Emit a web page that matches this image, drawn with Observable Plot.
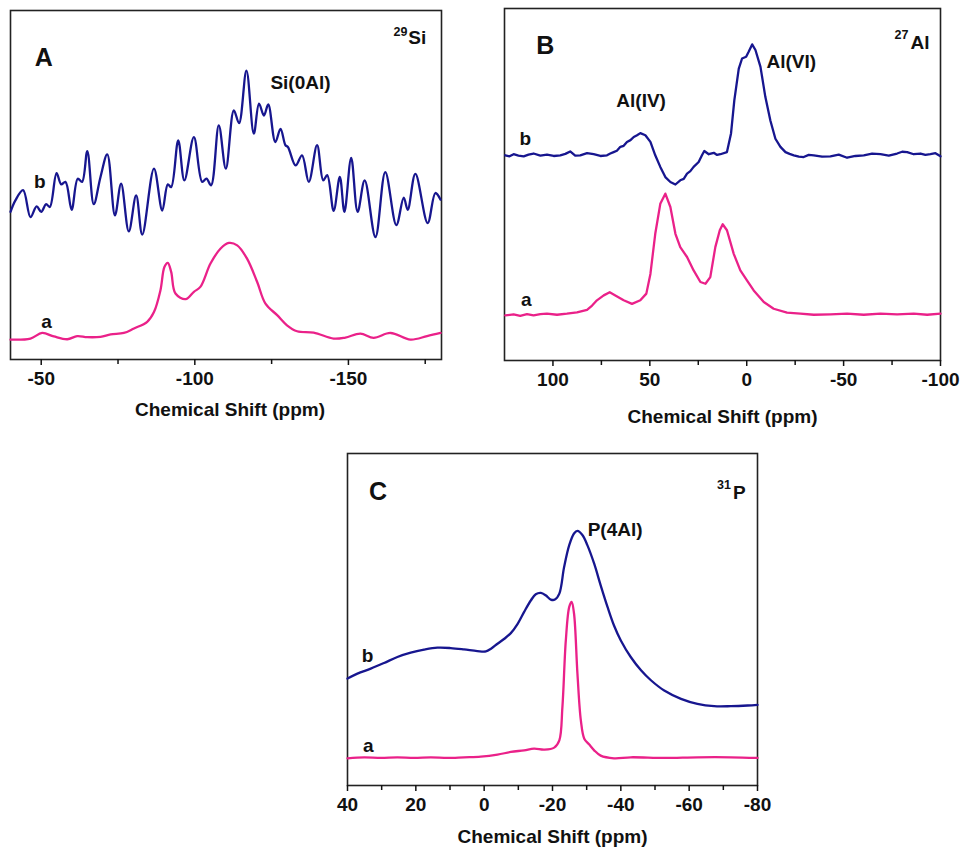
<!DOCTYPE html>
<html>
<head>
<meta charset="utf-8">
<script src="https://cdn.jsdelivr.net/npm/d3@7"></script>
<script src="https://cdn.jsdelivr.net/npm/@observablehq/plot@0.6"></script>
<style>
  html, body { margin: 0; padding: 0; background: #fff; }
  #wrap { position: relative; width: 967px; height: 850px; background: #fff; overflow: hidden; }
  .pane { position: absolute; }
</style>
</head>
<body>
<div id="wrap">
  <div class="pane" id="pA" style="left:0px;top:0px"></div>
  <div class="pane" id="pB" style="left:480px;top:0px"></div>
  <div class="pane" id="pC" style="left:330px;top:440px"></div>
</div>
<script>
// ---------- Panel A : 29Si ----------
const siTicks = [-50, -100, -150];
const siMinor = [-75, -125, -175];
const siShiftA = [-40, -46.5, -50.3, -54.1, -58.5, -61.7, -65, -69.3, -72.6, -76.9, -80.2, -84.5, -86.7, -88.8, -90.1, -91.2, -92.3, -93.7, -97, -99.7, -101.8, -105.1, -108.4, -111.1, -113.8, -117, -120.3, -123, -126.8, -130, -133.3, -138.7, -145.2, -149, -153.9, -158.2, -163.7, -170.2, -175.6, -180];
const siIntA   = [5.7, 6.0, 7.6, 6.6, 5.8, 6.7, 6.4, 6.5, 7.2, 7.6, 8.9, 10.8, 13.6, 19.8, 26.5, 27.7, 25.1, 18.9, 17.3, 19.4, 20.8, 27.5, 31.8, 33.4, 32.7, 28.9, 22.2, 16.0, 12.7, 9.8, 8.1, 7.7, 6.0, 6.3, 7.4, 6.2, 7.6, 5.7, 6.7, 7.6];
const siShiftB = [-40, -41.6, -44.1, -46.5, -48.5, -50, -51.6, -52.8, -55, -56.5, -57.9, -59.9, -61.9, -63.3, -65, -67.1, -69.3, -71.5, -74, -76, -78.5, -80.9, -82.9, -86.7, -89.4, -91.2, -92.3, -94.6, -96.6, -99.7, -102.4, -103.8, -105.3, -107.8, -110.1, -112.7, -114.4, -116.8, -119.2, -120.9, -122.5, -123.9, -126.2, -127.9, -129.5, -130.3, -132.8, -134.9, -137.1, -139.8, -141.8, -143.1, -145.2, -147.2, -148.7, -150.9, -153, -155.3, -158.8, -162, -165.6, -168, -169.3, -171.8, -175.8, -178.3, -180];
const siIntB   = [42.3, 45.6, 48.5, 40.8, 43.9, 42.3, 44.5, 43.7, 53.4, 50.2, 50.9, 42.9, 51.8, 50.9, 59.7, 44.5, 52.3, 58.8, 41.3, 50.4, 36.7, 47.0, 35.8, 54.7, 42.7, 50.2, 49.4, 62.8, 51.3, 63.7, 50.9, 51.8, 49.9, 67.1, 54.7, 71.4, 67.7, 82.8, 64.7, 73.3, 69.9, 73.1, 62.3, 66.1, 61.4, 60.9, 55.6, 58.5, 50.9, 61.4, 51.3, 52.8, 42.6, 52.3, 42.3, 57.8, 42.3, 51.3, 35.1, 53.7, 38.5, 46.4, 42.9, 53.2, 39.1, 47.7, 45.8];

// ---------- Panel B : 27Al ----------
const alTicks = [100, 50, 0, -50, -100];
const alMinor = [75, 25, -25, -75];
const alShiftB = [124.6, 122.4, 120.3, 117.8, 115.1, 112.6, 110, 106.5, 103.1, 99.6, 96.2, 93.6, 91.1, 88.5, 85.9, 82.4, 79, 75.5, 72.1, 70.4, 68.7, 67, 65.2, 63.5, 61.8, 60, 58.3, 56.6, 54.9, 52.3, 49.7, 47.2, 44.6, 42, 39.4, 36.8, 34.3, 32.5, 30.8, 29.1, 27.4, 24.8, 23.1, 21.9, 19.6, 17, 15.3, 13.6, 10.2, 8.1, 6.4, 4.1, 2.4, 0.3, -1, -2.8, -4.5, -7.1, -9.6, -12.2, -14.8, -17.4, -20, -22.1, -24.3, -26.9, -29.4, -32, -34.6, -38.9, -43.2, -47.5, -51.8, -56.1, -60.4, -64.7, -69, -73.3, -77.6, -80.2, -82.8, -86.2, -89.7, -92.2, -94.8, -97.4, -100];
const alIntB   = [58.3, 58.0, 58.6, 58.2, 58.0, 58.5, 58.8, 58.2, 58.5, 58.1, 58.3, 58.7, 59.4, 58.2, 58.3, 58.9, 58.6, 58.1, 58.3, 58.8, 59.2, 59.6, 60.7, 61.0, 62.1, 62.6, 63.5, 64.0, 64.6, 64.0, 62.1, 58.3, 55.0, 52.1, 50.7, 50.0, 51.2, 51.6, 53.1, 53.8, 55.0, 56.4, 58.3, 59.5, 58.6, 59.0, 58.4, 58.6, 59.2, 64.5, 73.9, 82.9, 85.8, 86.3, 87.7, 89.8, 88.2, 83.4, 74.9, 68.2, 63.0, 60.7, 59.2, 58.7, 58.3, 57.9, 57.8, 58.4, 58.3, 57.9, 58.0, 58.5, 57.6, 58.1, 58.3, 58.8, 58.6, 58.2, 58.8, 59.3, 59.2, 58.6, 58.8, 58.4, 58.6, 58.9, 58.0];
const alShiftA = [124.6, 120.3, 116.9, 113.4, 110, 106.5, 103.1, 97.9, 92.8, 87.6, 82.4, 79.8, 77.3, 73.8, 70.7, 67.8, 63.5, 59.2, 54.9, 51.8, 49.7, 47.2, 44.6, 42, 39.4, 36.8, 34.3, 30.8, 27.4, 23.9, 21.3, 18.8, 16.2, 13.9, 12.4, 10.2, 6.7, 3.3, -0.2, -3.6, -8.8, -13.9, -20.8, -27.7, -34.6, -43.2, -51.8, -60.4, -69, -77.6, -86.2, -93.1, -100];
const alIntA   = [12.8, 13.1, 12.7, 13.2, 12.8, 13.2, 13.3, 13.0, 13.3, 13.7, 14.4, 15.6, 17.1, 18.5, 19.4, 18.5, 17.1, 16.1, 17.1, 19.0, 24.6, 36.0, 44.5, 47.4, 43.6, 36.0, 32.2, 29.4, 25.6, 22.3, 21.8, 23.7, 32.2, 37.0, 38.7, 37.0, 30.3, 25.6, 22.7, 19.9, 16.6, 14.7, 13.6, 13.3, 13.0, 13.1, 13.3, 13.0, 13.3, 13.1, 13.3, 13.0, 13.3];

// ---------- Panel C : 31P ----------
const pTicks = [40, 20, 0, -20, -40, -60, -80];
const pMinor = [30, 10, -10, -30, -50, -70];
const pShiftB = [40, 37.1, 33.2, 29.3, 25.4, 21.5, 17.6, 13.7, 9.8, 5.9, 2, -0.5, -2, -3.9, -5.9, -7.8, -9.8, -11.7, -13.7, -15.1, -16.6, -18, -19.5, -20.7, -22, -23.4, -24.9, -26.3, -27.3, -28.8, -30.2, -32.2, -34.1, -36.1, -38, -40, -42.9, -45.9, -48.8, -52.7, -57.6, -62.4, -67.3, -72.2, -77.1, -80];
const pIntB   = [32.2, 33.7, 35.2, 36.9, 38.7, 40.0, 40.9, 41.5, 41.4, 41.0, 40.5, 40.4, 41.2, 42.7, 44.2, 45.9, 48.7, 52.3, 55.8, 57.6, 58.0, 57.3, 56.0, 56.0, 57.8, 65.8, 72.4, 75.9, 76.7, 75.4, 72.4, 66.8, 60.3, 53.8, 48.2, 43.7, 38.7, 34.7, 31.7, 28.6, 26.1, 24.6, 23.9, 23.9, 24.1, 24.3];
const pShiftA = [40, 35.1, 30.2, 25.4, 20.5, 15.6, 10.7, 5.9, 1, -3.9, -7.8, -11.7, -14.6, -17.6, -20.5, -22, -22.9, -23.9, -24.9, -25.6, -26.3, -27.3, -28.3, -29.3, -30.7, -32.2, -34.1, -38, -42.9, -52.7, -62.4, -72.2, -80];
const pIntA   = [8.2, 8.5, 8.3, 8.5, 8.3, 8.5, 8.3, 8.5, 8.7, 9.3, 10.1, 10.6, 11.1, 10.8, 11.4, 13.6, 23.6, 43.7, 53.8, 55.3, 51.8, 33.7, 19.6, 14.1, 12.4, 10.6, 9.0, 8.2, 8.5, 8.3, 8.5, 8.5, 8.3];

const BLUE = "#17168f";
const PINK = "#ea2189";
const FONT = "'Liberation Sans', Arial, sans-serif";

const rows = (xs, ys) => xs.map((x, i) => ({x, y: ys[i]}));

function panel(o) {
  const [mt, mr, mb, ml] = o.margins;
  const lab = (arr, size, anchor) => Plot.text(arr, {
    x: "x", y: "y", text: "t", textAnchor: anchor, lineAnchor: "bottom",
    fontSize: size, fontWeight: "bold", fill: "#111", fontFamily: FONT
  });
  return Plot.plot({
    width: o.width, height: o.height,
    marginTop: mt, marginRight: mr, marginBottom: mb, marginLeft: ml,
    x: {domain: o.domain, label: null},
    y: {domain: [0, 100], axis: null, label: null},
    style: {fontFamily: FONT, background: "transparent", overflow: "visible", color: "#111"},
    marks: [
      Plot.frame({stroke: "#222", strokeWidth: 1.6}),
      Plot.axisX({ticks: o.minor, tickSize: 5, tickFormat: () => "", strokeWidth: 1.5, label: null}),
      Plot.axisX({ticks: o.ticks, tickSize: 6, tickPadding: 6, tickFormat: d => String(d),
        fontSize: 19, fontWeight: "bold", strokeWidth: 1.5, label: null, fill: "#111"}),
      Plot.line(rows(o.bx, o.by), {x: "x", y: "y", stroke: BLUE, strokeWidth: 2.3, curve: o.curve}),
      Plot.line(rows(o.ax, o.ay), {x: "x", y: "y", stroke: PINK, strokeWidth: 2.3, curve: o.curve}),
      Plot.text(["Chemical Shift (ppm)"], {frameAnchor: "bottom", dy: o.labelDy, dx: o.labelDx || 0,
        lineAnchor: "bottom", fontSize: 19, fontWeight: "bold", fill: "#111"}),
      lab(o.big, 25, "middle"),
      lab(o.mid, 19, "middle"),
      lab(o.peak, 19, "start"),
      lab(o.nucl, 19, "start"),
      lab(o.sup, 12.5, "end")
    ]
  });
}

document.getElementById("pA").append(panel({
  width: 450, height: 425, margins: [10, 9, 66, 10], domain: [-40, -180.3], curve: "catmull-rom",
  ticks: siTicks, minor: siMinor, labelDy: 56, labelDx: 4,
  bx: siShiftB, by: siIntB, ax: siShiftA, ay: siIntA,
  big: [{x: -50.8, y: 84.2, t: "A"}],
  mid: [{x: -49.5, y: 49.2, t: "b"}, {x: -51.7, y: 8.9, t: "a"}],
  peak: [{x: -124.6, y: 77.6, t: "Si(0Al)"}],
  nucl: [{x: -169.5, y: 90.5, t: "Si"}],
  sup: [{x: -169.2, y: 92.8, t: "29"}]
}));

document.getElementById("pB").append(panel({
  width: 487, height: 430, margins: [8, 27, 70, 24], domain: [125, -100], curve: "linear",
  ticks: alTicks, minor: alMinor, labelDy: 62, labelDx: 0,
  bx: alShiftB, by: alIntB, ax: alShiftA, ay: alIntA,
  big: [{x: 104.0, y: 87.2, t: "B"}],
  mid: [{x: 114.3, y: 61.1, t: "b"}, {x: 113.8, y: 15.6, t: "a"}],
  peak: [{x: 67.3, y: 71.9, t: "Al(IV)"}, {x: -10.2, y: 83.2, t: "Al(VI)"}],
  nucl: [{x: -84.5, y: 88.6, t: "Al"}],
  sup: [{x: -83.5, y: 91.2, t: "27"}]
}));

document.getElementById("pC").append(panel({
  width: 450, height: 410, margins: [13, 23, 65, 17], domain: [40, -80], curve: "catmull-rom",
  ticks: pTicks, minor: pMinor, labelDy: 57, labelDx: 0,
  bx: pShiftB, by: pIntB, ax: pShiftA, ay: pIntA,
  big: [{x: 31.1, y: 86.1, t: "C"}],
  mid: [{x: 34.1, y: 37.3, t: "b"}, {x: 33.9, y: 10.2, t: "a"}],
  peak: [{x: -30.3, y: 75.3, t: "P(4Al)"}],
  nucl: [{x: -72.8, y: 86.4, t: "P"}],
  sup: [{x: -72.2, y: 89.2, t: "31"}]
}));
</script>
</body>
</html>
